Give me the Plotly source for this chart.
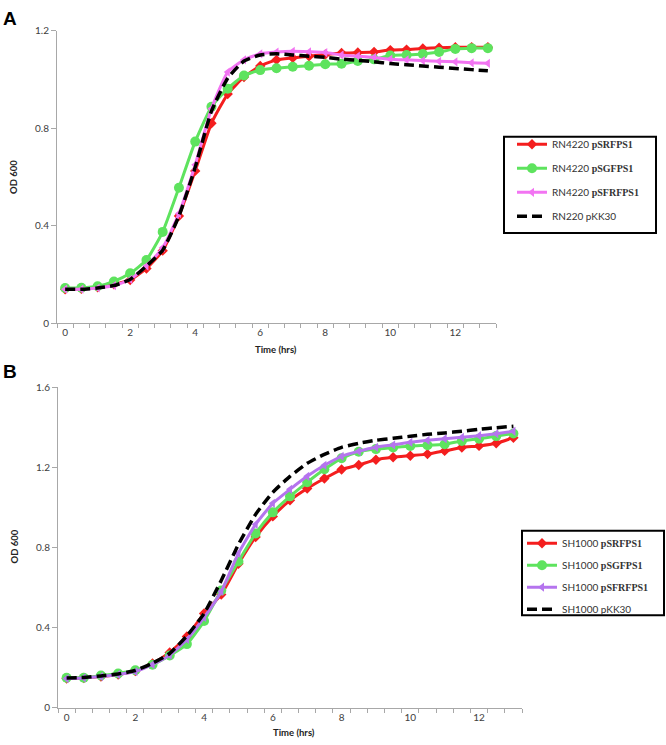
import plotly.graph_objects as go

W, H = 666, 745

times = [0, 0.5, 1, 1.5, 2, 2.5, 3, 3.5, 4, 4.5, 5, 5.5, 6, 6.5, 7, 7.5, 8, 8.5, 9,
         9.5, 10, 10.5, 11, 11.5, 12, 12.5, 13]

# Panel A (RN4220)
a_red = [0.140, 0.142, 0.148, 0.160, 0.178, 0.225, 0.298, 0.440, 0.625, 0.820, 0.940, 1.010, 1.055, 1.080,
         1.088, 1.095, 1.102, 1.108, 1.110, 1.112, 1.120, 1.122, 1.127, 1.130, 1.132, 1.132, 1.132]
a_green = [0.145, 0.146, 0.152, 0.172, 0.205, 0.260, 0.375, 0.556, 0.745, 0.888, 0.962, 1.016, 1.038, 1.046,
           1.052, 1.056, 1.062, 1.064, 1.075, 1.082, 1.098, 1.100, 1.104, 1.112, 1.125, 1.128, 1.128]
a_pink = [0.140, 0.140, 0.145, 0.155, 0.180, 0.235, 0.310, 0.450, 0.650, 0.880, 1.030, 1.080, 1.105, 1.112,
          1.115, 1.113, 1.110, 1.100, 1.095, 1.090, 1.083, 1.080, 1.077, 1.074, 1.072, 1.068, 1.066]
a_black = [0.140, 0.140, 0.145, 0.155, 0.180, 0.235, 0.300, 0.440, 0.640, 0.870, 1.005, 1.075, 1.100, 1.105,
           1.100, 1.095, 1.090, 1.083, 1.078, 1.072, 1.065, 1.060, 1.055, 1.050, 1.045, 1.040, 1.035]

# Panel B (SH1000)
b_red = [0.145, 0.148, 0.155, 0.165, 0.182, 0.220, 0.275, 0.355, 0.470, 0.565, 0.718, 0.852, 0.955, 1.035,
         1.094, 1.144, 1.189, 1.212, 1.238, 1.250, 1.258, 1.266, 1.282, 1.299, 1.307, 1.320, 1.348]
b_green = [0.149, 0.149, 0.160, 0.170, 0.186, 0.214, 0.260, 0.317, 0.432, 0.585, 0.730, 0.870, 0.975, 1.055,
           1.125, 1.190, 1.245, 1.278, 1.291, 1.299, 1.307, 1.310, 1.315, 1.332, 1.343, 1.356, 1.369]
b_purple = [0.145, 0.148, 0.155, 0.165, 0.180, 0.215, 0.262, 0.340, 0.450, 0.580, 0.770, 0.915, 1.020, 1.090,
            1.155, 1.210, 1.255, 1.280, 1.300, 1.312, 1.325, 1.335, 1.343, 1.350, 1.358, 1.368, 1.380]
b_black = [0.148, 0.150, 0.158, 0.168, 0.185, 0.222, 0.270, 0.358, 0.470, 0.635, 0.815, 0.965, 1.075, 1.155,
           1.220, 1.265, 1.300, 1.320, 1.335, 1.345, 1.355, 1.365, 1.372, 1.380, 1.390, 1.398, 1.405]

x_ticks = [0, 2, 4, 6, 8, 10, 12]
a_yticks = [0, 0.4, 0.8, 1.2]
b_yticks = [0, 0.4, 0.8, 1.2, 1.6]

names_a = ["RN4220 <span style='font-family:Liberation Serif'><b>pSRFPS1</b></span>",
           "RN4220 <span style='font-family:Liberation Serif'><b>pSGFPS1</b></span>",
           "RN4220 <span style='font-family:Liberation Serif'><b>pSFRFPS1</b></span>",
           "RN220 pKK30"]
names_b = ["SH1000 <span style='font-family:Liberation Serif'><b>pSRFPS1</b></span>",
           "SH1000 <span style='font-family:Liberation Serif'><b>pSGFPS1</b></span>",
           "SH1000 <span style='font-family:Liberation Serif'><b>pSFRFPS1</b></span>",
           "SH1000 pKK30"]

RED = "#f41e1e"
GREEN = "#5ee35e"
PINK = "#f274f2"
PURPLE = "#b574ee"

fig = go.Figure()


def add_panel(xa, ya, leg, names, red, green, third, black, third_color, gi):
    fig.add_trace(go.Scatter(x=times, y=red, name=names[0], xaxis=xa, yaxis=ya, legend=leg,
                             legendgroup=f"g{gi}1", mode="lines+markers",
                             line=dict(color=RED, width=3, shape="spline", smoothing=0.5),
                             marker=dict(symbol="diamond", size=8, color=RED)))
    fig.add_trace(go.Scatter(x=times, y=green, name=names[1], xaxis=xa, yaxis=ya, legend=leg,
                             legendgroup=f"g{gi}2", mode="lines+markers",
                             line=dict(color=GREEN, width=3, shape="spline", smoothing=0.5),
                             marker=dict(symbol="circle", size=10, color=GREEN)))
    fig.add_trace(go.Scatter(x=times, y=third, name=names[2], xaxis=xa, yaxis=ya, legend=leg,
                             legendgroup=f"g{gi}3", mode="lines+markers",
                             line=dict(color=third_color, width=3, shape="spline", smoothing=0.5),
                             marker=dict(symbol="triangle-left", size=8, color=third_color)))
    fig.add_trace(go.Scatter(x=times, y=black, name=names[3], xaxis=xa, yaxis=ya, legend=leg,
                             legendgroup=f"g{gi}4", mode="lines",
                             line=dict(color="black", width=3.5, dash="10px,5px", shape="spline",
                                       smoothing=0.5)))


add_panel("x", "y", "legend", names_a, a_red, a_green, a_pink, a_black, PINK, 1)
add_panel("x2", "y2", "legend2", names_b, b_red, b_green, b_purple, b_black, PURPLE, 2)

AX = "#a8a8a8"
tickfont = dict(family="Lato, Open Sans, sans-serif", size=10, color="#404040")


def xaxis(domain, anchor):
    return dict(domain=domain, anchor=anchor, range=[-0.25, 13.25], tickmode="array",
                tickvals=x_ticks, ticks="outside", ticklen=0, showline=True, linecolor=AX,
                linewidth=1, showgrid=False, zeroline=False, tickfont=tickfont,
                minor=dict(ticks="outside", ticklen=4, tickcolor=AX, tick0=-0.25, dtick=0.5,
                           showgrid=False))


def yaxis(domain, anchor, rng, vals):
    return dict(domain=domain, anchor=anchor, range=rng, tickmode="array", tickvals=vals,
                ticktext=[("0" if v == 0 else f"{v:.1f}") for v in vals],
                ticks="outside", ticklen=5, tickcolor=AX, showline=True, linecolor=AX,
                linewidth=1, showgrid=False, zeroline=False, tickfont=tickfont)


def px(x):
    return x / W


def py(y):
    return 1 - y / H


legfont = dict(family="Lato, Open Sans, sans-serif", size=10, color="#333333")

fig.update_layout(
    width=W, height=H, margin=dict(l=0, r=0, t=0, b=0),
    paper_bgcolor="white", plot_bgcolor="white",
    xaxis=xaxis([px(57), px(496)], "y"),
    yaxis=yaxis([py(322), py(24)], "x", [0, 1.2], a_yticks),
    xaxis2=xaxis([px(58), px(522)], "y2"),
    yaxis2=yaxis([py(713), py(387)], "x2", [0, 1.6], b_yticks),
    legend=dict(x=px(512), y=py(125), xanchor="left", yanchor="top", bgcolor="rgba(0,0,0,0)",
                borderwidth=0, traceorder="grouped", tracegroupgap=5, font=legfont),
    legend2=dict(x=px(522), y=py(531), xanchor="left", yanchor="top", bgcolor="rgba(0,0,0,0)",
                 borderwidth=0, traceorder="grouped", tracegroupgap=3, font=legfont),
    showlegend=True,
)

fig.add_shape(type="rect", xref="paper", yref="paper", x0=px(504), x1=px(656), y0=py(230), y1=py(132),
              line=dict(color="black", width=2))
fig.add_shape(type="rect", xref="paper", yref="paper", x0=px(522), x1=px(664), y0=py(619), y1=py(533),
              line=dict(color="black", width=2))

bold = dict(family="Lato, Open Sans, sans-serif", size=9.5, color="#222222")
ann = [
    dict(text="<b>A</b>", x=px(1), y=py(12), xanchor="left", yanchor="middle",
         font=dict(family="Liberation Sans, Arial", size=19, color="black")),
    dict(text="<b>B</b>", x=px(1), y=py(371), xanchor="left", yanchor="middle",
         font=dict(family="Liberation Sans, Arial", size=19, color="black")),
    dict(text="<b>Time (hrs)</b>", x=px(276), y=py(349), xanchor="center", yanchor="middle", font=bold),
    dict(text="<b>Time (hrs)</b>", x=px(294), y=py(738), xanchor="center", yanchor="middle", font=bold),
    dict(text="<b>OD 600</b>", x=px(14), y=py(173), xanchor="center", yanchor="middle", textangle=-90,
         font=bold),
    dict(text="<b>OD 600</b>", x=px(14), y=py(549), xanchor="center", yanchor="middle", textangle=-90,
         font=bold),
]
for a in ann:
    fig.add_annotation(xref="paper", yref="paper", showarrow=False, **a)

fig.write_html("out.html", config={"displayModeBar": False},
               post_script="document.body.style.margin='0px';")
